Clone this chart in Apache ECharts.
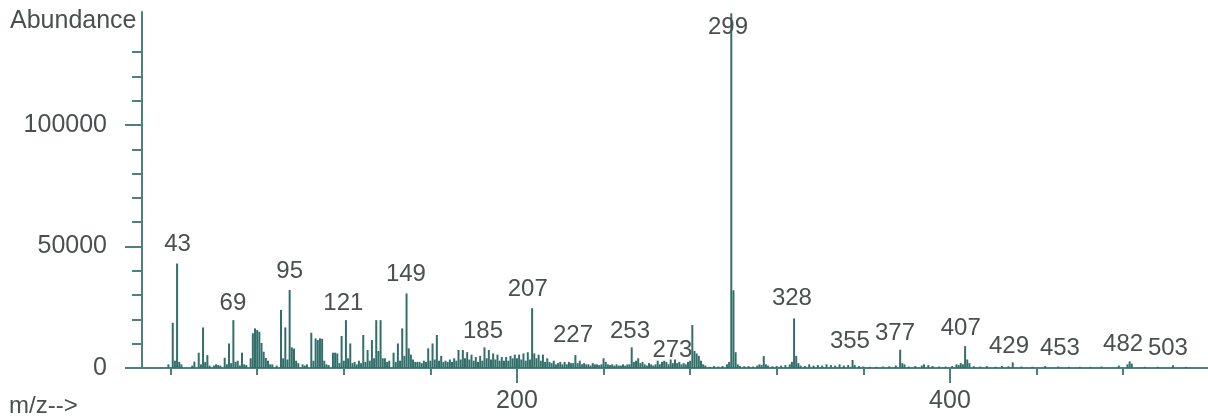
<!DOCTYPE html>
<html>
<head>
<meta charset="utf-8">
<script src="https://cdn.jsdelivr.net/npm/echarts@6/dist/echarts.min.js"></script>
<style>
html,body{margin:0;padding:0;background:#fff;}
#chart{width:1208px;height:416px;}
</style>
</head>
<body>
<div id="chart"></div>
<script>
// m/z values and abundances
const mz = [39,41,42,43,44,45,50,51,53,54,55,56,57,58,60,61,62,63,65,66,67,68,69,70,71,72,73,74,75,
77,78,79,80,81,82,83,84,85,86,87,89,91,92,93,94,95,96,97,98,99,101,102,103,105,106,107,108,109,110,111,112,113,
115,116,117,118,119,120,121,122,123,124,125,126,127,128,129,130,131,132,133,134,135,136,137,138,139,140,141,
143,144,145,146,147,148,149,150,151,152,153,154,155,156,157,158,159,160,161,162,163,164,165,166,167,168,169,170,
171,172,173,174,175,176,177,178,179,180,181,182,183,184,185,186,187,188,189,190,191,192,193,194,195,196,197,198,
199,200,201,202,203,204,205,206,207,208,209,210,211,212,213,214,215,216,217,218,219,220,221,222,223,224,225,226,
227,228,229,230,231,232,233,234,235,236,237,238,239,240,241,242,243,244,245,246,247,248,249,250,251,252,253,254,
255,256,257,258,259,260,261,262,263,264,265,266,267,268,269,270,271,272,273,274,275,276,277,278,279,280,281,282,
283,284,285,286,287,289,291,293,295,297,298,299,300,301,302,303,305,307,309,311,312,313,314,315,316,318,320,322,
324,326,327,328,329,330,331,333,335,337,339,341,343,345,347,349,351,353,355,356,358,360,363,366,369,372,375,377,
378,379,381,384,387,388,390,392,395,398,401,403,404,405,406,407,408,409,411,414,417,421,424,427,429,433,438,444,
450,455,460,465,470,478,482,483,484,490,496,503,509];
const abundance = [1500,18600,3000,43000,2500,1500,1000,2600,6300,1500,16700,2500,5300,1000,1000,1500,1200,1000,4200,1500,10100,2000,19700,2500,3000,1000,6300,1500,1200,
4000,14300,16300,15600,14900,10300,6700,4100,3000,1500,1500,1000,23900,4000,16700,3500,32100,8500,8000,3000,2000,1500,1000,1500,14500,3000,12200,11500,12200,12000,3000,1500,1200,
6300,6300,6000,2000,13200,3000,19700,4000,10100,2000,2500,1500,3000,2000,13600,2500,7400,3000,11500,4000,19700,7000,19700,4000,4000,2500,3000,
6300,2500,10100,3000,16300,5000,30700,8100,5500,3500,2500,2500,2500,2000,3000,2500,8100,3000,10100,3500,13600,3000,5000,2500,3000,2500,3500,2500,
4000,3000,7400,3500,7400,4000,6500,3500,5500,3000,4500,2500,5000,3000,8500,4000,7400,3500,6000,3500,5500,3000,4500,3000,4500,3000,5000,4000,
5500,4000,5500,3500,6000,3000,6500,3500,24600,6000,4000,5500,3000,5500,2500,4000,2500,2000,3000,1500,2000,2500,1500,2500,1500,2500,2000,2000,
5300,2000,3000,1500,2000,1500,1500,1000,2000,1500,1500,1200,1500,4000,2500,1500,1200,1500,1000,1500,1000,1000,1500,1000,1500,1500,8500,2500,
3000,4000,2000,2500,1500,1000,2000,1500,1000,1500,3000,1500,2500,3000,2500,1500,3500,2000,3500,2000,2500,1500,2000,1500,2500,3000,17700,7000,
6000,5000,3000,1500,1000,500,800,600,800,1500,2500,146000,32000,6500,1500,800,700,800,600,1000,1500,1200,4900,1500,1000,700,800,1000,
1200,1500,2500,20400,5000,2000,1000,800,1500,1000,1200,1000,1500,1200,1000,1500,1000,1200,3300,1200,800,600,500,500,600,700,1000,7500,
2000,1500,600,800,1000,1500,1200,800,600,600,800,1500,1200,2000,1500,9000,3500,2000,700,600,800,500,800,700,2300,600,500,800,
600,500,500,500,600,1000,1500,2700,1800,500,500,1100,500];

// peak annotations: text, and where the text sits (m/z, abundance of its foot)
const labelText = ['43','69','95','121','149','185','207','227','253','273','299','328','355','377','407','429','453','482','503'];
const labelX = [43.2,68.8,95,119.8,148.7,184.3,205,225.9,252.2,271.8,297.5,327,353.8,374.6,405,427.3,450.8,480,500.7];
const labelY = [47300,23000,36200,23000,35000,11500,28800,9900,11500,3700,136600,25100,7400,10700,12800,5300,4500,6200,4500];

const xMajor = [200, 400];
const xMinor = [40, 80, 120, 160, 240, 280, 320, 360, 440, 480];
const yMajor = [0, 50000, 100000];
const yMinor = [10000, 20000, 30000, 40000, 60000, 70000, 80000, 90000, 110000, 120000, 130000];
const xMin = 26.8, xMax = 519.2, yMax = 146500;

const teal = '#4a827d';
const stickCol = '#336f6a';
const textCol = '#4a4f4f';
const fontFam = '"Liberation Sans", Arial, sans-serif';

const chart = echarts.init(document.getElementById('chart'), null, {renderer: 'canvas'});
const sticks = mz.map((m, i) => [m, abundance[i]]);
const labels = labelX.map((x, i) => [x, labelY[i]]);

chart.setOption({
  backgroundColor: '#fff',
  animation: false,
  grid: {left: 142, right: 0, top: 12, bottom: 48, containLabel: false},
  xAxis: [{
    type: 'value', min: xMin, max: xMax, position: 'bottom',
    axisLine: {show: true, onZero: false, lineStyle: {color: teal, width: 2}},
    axisTick: {show: true, customValues: xMajor, length: 15, lineStyle: {color: teal, width: 2}},
    axisLabel: {show: true, customValues: xMajor, margin: 21, color: textCol, fontSize: 25, fontFamily: fontFam,
      formatter: function (v) { return String(v); }},
    splitLine: {show: false}
  }, {
    type: 'value', min: xMin, max: xMax, position: 'bottom',
    axisLine: {show: false},
    axisTick: {show: true, customValues: xMinor, length: 7, lineStyle: {color: teal, width: 2}},
    axisLabel: {show: false},
    splitLine: {show: false}
  }],
  yAxis: [{
    type: 'value', min: 0, max: yMax, position: 'left',
    axisLine: {show: true, onZero: false, lineStyle: {color: teal, width: 2}},
    axisTick: {show: true, customValues: yMajor, length: 17, lineStyle: {color: teal, width: 2}},
    axisLabel: {show: true, customValues: yMajor, margin: 35, color: textCol, fontSize: 25, fontFamily: fontFam,
      formatter: function (v) { return String(v); }},
    splitLine: {show: false}
  }, {
    type: 'value', min: 0, max: yMax, position: 'left',
    axisLine: {show: false},
    axisTick: {show: true, customValues: yMinor, length: 10, lineStyle: {color: teal, width: 2}},
    axisLabel: {show: false},
    splitLine: {show: false}
  }],
  graphic: [
    {type: 'text', left: 10, top: 9, style: {text: 'Abundance', fill: textCol, font: '25px ' + fontFam}},
    {type: 'text', left: 9, top: 394, style: {text: 'm/z-->', fill: textCol, font: '24px ' + fontFam}}
  ],
  series: [{
    type: 'custom',
    xAxisIndex: 0, yAxisIndex: 0,
    data: sticks,
    renderItem: function (params, api) {
      const top = api.coord([api.value(0), api.value(1)]);
      const base = api.coord([api.value(0), 0]);
      return {
        type: 'rect',
        shape: {x: top[0] - 1, y: top[1], width: 2, height: base[1] - top[1]},
        style: {fill: stickCol}
      };
    },
    silent: true
  }, {
    type: 'scatter',
    xAxisIndex: 0, yAxisIndex: 0,
    data: labels,
    symbolSize: 0,
    silent: true,
    z: 5,
    label: {
      show: true, position: 'top', distance: -3,
      color: textCol, opacity: 1, fontSize: 24, fontFamily: fontFam,
      formatter: function (p) { return labelText[p.dataIndex]; }
    }
  }]
});
</script>
</body>
</html>
